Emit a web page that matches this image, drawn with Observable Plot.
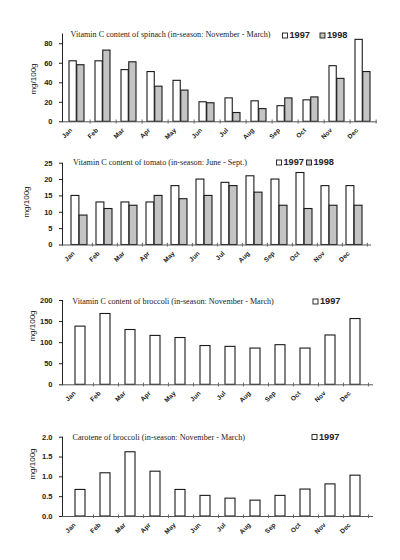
<!DOCTYPE html>
<html><head><meta charset="utf-8">
<script src="https://cdn.jsdelivr.net/npm/d3@7"></script>
<script src="https://cdn.jsdelivr.net/npm/@observablehq/plot@0.6"></script>
<style>
body{margin:0;background:#fff;}
#wrap{position:relative;width:400px;height:560px;overflow:hidden;background:#fff;}
#wrap > svg{position:absolute;left:0;}
</style></head><body><div id="wrap"></div>
<script>
const months = ["Jan","Feb","Mar","Apr","May","Jun","Jul","Aug","Sep","Oct","Nov","Dec"];
const spinach1997 = [62,62,53,51,42,20,24,21,16,22,57,84];
const spinach1998 = [58,73,61,36,32,19,9,13,24,25,44,51];
const tomato1997 = [15,13,13,13,18,20,19,21,20,22,18,18];
const tomato1998 = [9,11,12,15,14,15,18,16,12,11,12,12];
const broccoli1997 = [138,168,130,116,111,92,90,86,94,86,117,156];
const carotene1997 = [0.67,1.09,1.62,1.13,0.67,0.52,0.45,0.40,0.52,0.68,0.81,1.03];
const titles = [
  "Vitamin C content of spinach (in-season: November - March)",
  "Vitamin C content of tomato (in-season: June - Sept.)",
  "Vitamin C content of broccoli (in-season: November - March)",
  "Carotene of broccoli (in-season: November - March)"
];
const yTicks = [[0,20,40,60,80],[0,5,10,15,20,25],[0,50,100,150,200],[0,0.5,1.0,1.5,2.0]];
const yDomains = [[0,90],[0,25],[0,200],[0,2]];
const yLabel = "mg/100g";
const C98 = "#c4c4c4";

const panels = [
  {top:0, mt:33.5, mb:18.7, right:377, pad:0.41, series:[["1997",spinach1997],["1998",spinach1998]], fmt:d3.format("d"),
   tx:70.5, ty:36.5, tw:200, legend:[[282.5,33,"1997"],[320,33,"1998"]], lx:33, ly:79},
  {top:140, mt:22.7, mb:35.5, right:371, pad:0.37, series:[["1997",tomato1997],["1998",tomato1998]], fmt:d3.format("d"),
   tx:73, ty:165, tw:174, legend:[[276.5,160,"1997"],[306.5,160,"1998"]], lx:26.5, ly:202},
  {top:280, mt:20, mb:35.7, right:373, pad:0.59, series:[["1997",broccoli1997]], fmt:d3.format("d"),
   tx:72.3, ty:304, tw:201.5, legend:[[313,299,"1997"]], lx:32, ly:326},
  {top:420, mt:16.7, mb:44, right:373, pad:0.6, series:[["1997",carotene1997]], fmt:d3.format(".1f"),
   tx:72.5, ty:440, tw:172.5, legend:[[312,434.5,"1997"]], lx:32.5, ly:464}
];

const wrap = document.getElementById("wrap");

panels.forEach((p, k) => {
  const W = p.right - 62;
  const step = W / 12;
  const bw = step * (1 - p.pad);
  const dmax = yDomains[k][1];
  const marks = [];
  const two = p.series.length === 2;
  p.series.forEach(([year, vals], j) => {
    const rows = months.map((m, i) => ({month: m, year, value: vals[i]}));
    const opts = {x: "month", y: "value", fill: j === 0 ? "white" : C98, stroke: "#1a1a1a", strokeWidth: 1.1};
    if (two) { if (j === 0) opts.insetRight = bw / 2; else opts.insetLeft = bw / 2; }
    marks.push(Plot.barY(rows, opts));
  });
  marks.push(Plot.ruleY([0], {stroke: "#555"}));
  marks.push(Plot.ruleX(months, {x: d => d, dx: step / 2, y1: -dmax * 0.025, y2: dmax * 0.02, stroke: "#666"}));
  marks.push(Plot.text(months, {x: d => d, frameAnchor: "bottom", rotate: -45, textAnchor: "end", lineAnchor: "bottom",
    dx: -4.5, dy: 9, fontSize: 6.5, fontWeight: "bold", fill: "#222"}));
  const svg = Plot.plot({
    width: 400, height: 140,
    marginLeft: 62, marginRight: 400 - p.right, marginTop: p.mt, marginBottom: p.mb,
    style: {fontFamily: "'Liberation Sans', Arial, sans-serif", fontSize: "7.5px", fontWeight: "bold", color: "#222", background: "transparent"},
    x: {domain: months, paddingInner: p.pad, paddingOuter: p.pad / 2, axis: null},
    y: {domain: yDomains[k], ticks: yTicks[k], tickSize: 3, tickPadding: 7, line: true, label: null, tickFormat: p.fmt},
    marks
  });
  svg.style.top = p.top + "px";
  wrap.appendChild(svg);
});

// overlay: titles, in-chart legends, y-axis titles
const ov = d3.select(wrap).append("svg").attr("width", 400).attr("height", 560)
  .style("position", "absolute").style("left", "0px").style("top", "0px").style("pointer-events", "none");
panels.forEach((p, k) => {
  ov.append("text").attr("x", p.tx).attr("y", p.ty).text(titles[k])
    .attr("font-family", "'Liberation Serif', 'Times New Roman', serif").attr("font-size", 8.3)
    .attr("fill", "#222").attr("textLength", p.tw).attr("lengthAdjust", "spacingAndGlyphs");
  p.legend.forEach(([x, y, yr], j) => {
    ov.append("rect").attr("x", x).attr("y", y).attr("width", 5).attr("height", 5)
      .attr("fill", j === 0 ? "white" : C98).attr("stroke", "#1a1a1a").attr("stroke-width", 0.9);
    ov.append("text").attr("x", x + 7).attr("y", y + 5.3).text(yr)
      .attr("font-family", "'Liberation Sans', Arial, sans-serif").attr("font-weight", "bold").attr("font-size", 8.5)
      .attr("fill", "#222").attr("textLength", 20.5).attr("lengthAdjust", "spacingAndGlyphs");
  });
  ov.append("text").attr("transform", `translate(${p.lx + 2.5},${p.ly}) rotate(-90)`).attr("text-anchor", "middle")
    .text(yLabel).attr("font-family", "'Liberation Sans', Arial, sans-serif").attr("font-size", 8)
    .attr("fill", "#222");
});
</script></body></html>
